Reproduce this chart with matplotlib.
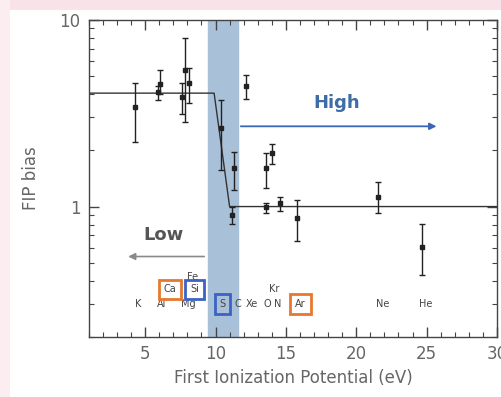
import matplotlib
matplotlib.use('Agg')
import matplotlib.pyplot as plt
from matplotlib.patches import Rectangle

# measured FIP bias per element
fip = [4.29, 5.93, 6.07, 7.64, 7.80, 8.14, 10.36, 11.29, 11.20, 12.14,
       13.57, 14.00, 13.57, 14.57, 15.79, 21.57, 24.64]
bias = [3.41, 4.10, 4.53, 3.85, 5.39, 4.59, 2.63, 1.60, 0.905, 4.42,
        1.60, 1.93, 0.99, 1.04, 0.873, 1.13, 0.61]
bias_hi = [4.58, 4.40, 5.37, 4.58, 8.00, 5.50, 3.71, 1.95, 0.99, 5.06,
           1.93, 2.15, 1.05, 1.13, 1.08, 1.35, 0.81]
bias_lo = [2.21, 3.71, 4.00, 3.12, 2.83, 3.60, 1.56, 1.22, 0.81, 3.76,
           1.25, 1.68, 0.92, 0.95, 0.65, 0.92, 0.43]

# step model
step_x = [1, 9.9, 11.0, 30]
step_y = [4.05, 4.05, 1.0, 1.0]

# element names along the bottom
elem_names = ['K', 'Al', 'Mg', 'Ca', 'Fe', 'Si', 'S', 'C', 'Xe', 'O', 'N', 'Kr', 'Ar', 'Ne', 'He']
elem_x = [4.5, 6.15, 8.1, 6.75, 8.35, 8.5, 10.5, 11.6, 12.55, 13.65, 14.45, 14.2, 16.05, 21.9, 24.9]
elem_y = [0.30, 0.30, 0.30, 0.36, 0.42, 0.36, 0.30, 0.30, 0.30, 0.30, 0.30, 0.36, 0.30, 0.30, 0.30]
orange_box = ['Ca', 'Ar']
blue_box = ['Si', 'S']

fig = plt.figure(figsize=(5.02, 3.97), dpi=100)
fig.patches.append(Rectangle((0, 0.975), 1, 0.025, transform=fig.transFigure,
                             facecolor='#fae3e8', edgecolor='none', zorder=-1))
fig.patches.append(Rectangle((0, 0), 0.02, 1, transform=fig.transFigure,
                             facecolor='#fcedf0', edgecolor='none', zorder=-1))

ax = fig.add_axes([0.177, 0.151, 0.813, 0.799])
ax.set_yscale('log')
ax.set_xlim(1, 30)
ax.set_ylim(0.2, 10)

ax.axvspan(9.5, 11.6, color='#a9c1d8', zorder=0)

ax.plot(step_x, step_y, color='#333333', lw=1.0, zorder=2)

yerr = [[b - l for b, l in zip(bias, bias_lo)], [h - b for b, h in zip(bias, bias_hi)]]
ax.errorbar(fip, bias, yerr=yerr, fmt='s', ms=3, color='#222222', ecolor='#222222',
            elinewidth=1.0, capsize=2.5, capthick=1.0, zorder=3)

for name, x, y in zip(elem_names, elem_x, elem_y):
    ec = None
    if name in orange_box:
        ec = '#e8782e'
    elif name in blue_box:
        ec = '#3b62c4'
    if ec:
        ax.text(x, y, name, ha='center', va='center', fontsize=7, color='#444444',
                bbox=dict(boxstyle='square,pad=0.5', facecolor='none', edgecolor=ec, lw=2))
    else:
        ax.text(x, y, name, ha='center', va='center', fontsize=7, color='#444444')

ax.annotate('', xy=(25.9, 2.69), xytext=(11.6, 2.69),
            arrowprops=dict(arrowstyle='-|>', color='#3a66b8', lw=1.3, mutation_scale=10))
ax.text(18.6, 3.58, 'High', ha='center', va='center', fontsize=13, fontweight='bold', color='#3e6ca6')

ax.annotate('', xy=(3.6, 0.54), xytext=(9.4, 0.54),
            arrowprops=dict(arrowstyle='-|>', color='#8a8a8a', lw=1.2, mutation_scale=10))
ax.text(6.3, 0.70, 'Low', ha='center', va='center', fontsize=13, fontweight='bold', color='#555555')

ax.set_xticks([5, 10, 15, 20, 25, 30])
ax.set_xticks(range(1, 31), minor=True)
ax.set_yticks([1, 10])
ax.set_yticklabels(['1', '10'])
ax.tick_params(which='both', direction='in', top=True, right=True, colors='#444444',
               labelcolor='#666666', labelsize=12, pad=6)
ax.tick_params(which='major', length=7, width=1)
ax.tick_params(which='minor', length=3.5, width=0.8)
ax.tick_params(axis='y', which='minor', labelleft=False)
for s in ax.spines.values():
    s.set_color('#444444')
    s.set_linewidth(1.0)

ax.set_xlabel('First Ionization Potential (eV)', fontsize=12, color='#666666', labelpad=4)
ax.set_ylabel('FIP bias', fontsize=12, color='#666666', labelpad=14)

fig.savefig('out.png', dpi=100)
